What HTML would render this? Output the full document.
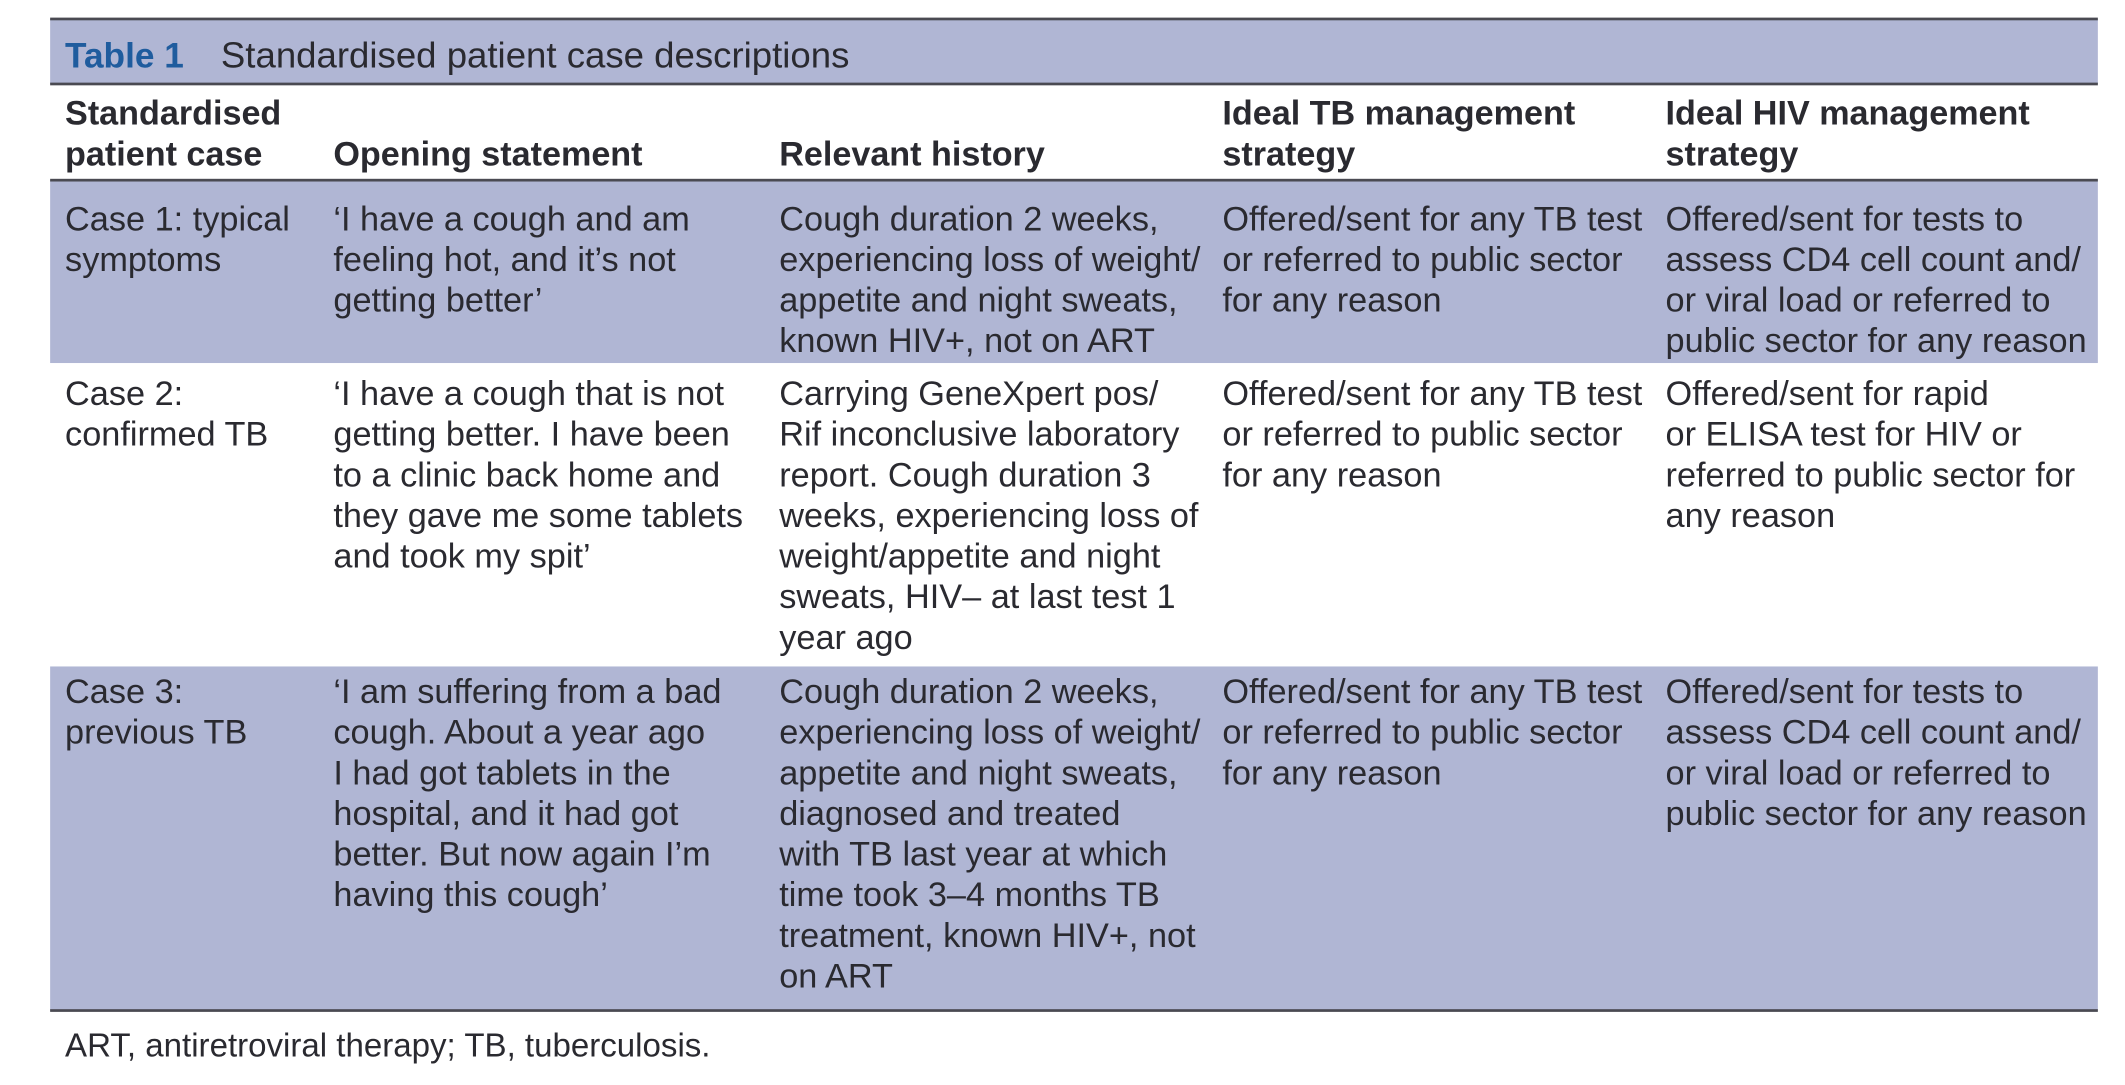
<!DOCTYPE html>
<html><head><meta charset="utf-8">
<style>
html,body{margin:0;padding:0;background:#fff;}
body{width:2125px;height:1085px;overflow:hidden;position:relative;}
#wrap{position:absolute;left:0;top:0;width:1568px;height:801px;transform:scale(1.3552,1.3546);transform-origin:0 0;font-family:"Liberation Sans",Arial,sans-serif;color:#2a2a30;}
.band{position:absolute;left:37px;width:1511px;background:#b0b6d4;}
.rule{position:absolute;left:37px;width:1511px;height:2px;background:#4a4a52;}
.c{position:absolute;font-size:25.3px;line-height:30px;white-space:nowrap;}
.h{font-weight:bold;font-size:25.2px;}
</style></head><body>
<div id="wrap">
<div class="band" style="top:14px;height:48px"></div>
<div class="band" style="top:133px;height:135px"></div>
<div class="band" style="top:492px;height:254px"></div>
<div class="rule" style="top:13px"></div>
<div class="rule" style="top:61px"></div>
<div class="rule" style="top:132px"></div>
<div class="rule" style="top:745px"></div>

<div class="c" style="left:48px;top:26px;font-size:26px;color:#1f5c9e;font-weight:bold">Table 1</div>
<div class="c" style="left:163px;top:26px;font-size:27px">Standardised patient case descriptions</div>

<div class="c h" style="left:48px;top:69px">Standardised<br>patient case</div>
<div class="c h" style="left:246px;top:99px">Opening statement</div>
<div class="c h" style="left:575px;top:99px">Relevant history</div>
<div class="c h" style="left:902px;top:69px">Ideal TB management<br>strategy</div>
<div class="c h" style="left:1229px;top:69px">Ideal HIV management<br>strategy</div>

<div class="c" style="left:48px;top:147px">Case 1: typical<br>symptoms</div>
<div class="c" style="left:246px;top:147px">‘I have a cough and am<br>feeling hot, and it’s not<br>getting better’</div>
<div class="c" style="left:575px;top:147px">Cough duration 2 weeks,<br>experiencing loss of weight/<br>appetite and night sweats,<br>known HIV+, not on ART</div>
<div class="c" style="left:902px;top:147px">Offered/sent for any TB test<br>or referred to public sector<br>for any reason</div>
<div class="c" style="left:1229px;top:147px">Offered/sent for tests to<br>assess CD4 cell count and/<br>or viral load or referred to<br>public sector for any reason</div>

<div class="c" style="left:48px;top:276px">Case 2:<br>confirmed TB</div>
<div class="c" style="left:246px;top:276px">‘I have a cough that is not<br>getting better. I have been<br>to a clinic back home and<br>they gave me some tablets<br>and took my spit’</div>
<div class="c" style="left:575px;top:276px">Carrying GeneXpert pos/<br>Rif inconclusive laboratory<br>report. Cough duration 3<br>weeks, experiencing loss of<br>weight/appetite and night<br>sweats, HIV– at last test 1<br>year ago</div>
<div class="c" style="left:902px;top:276px">Offered/sent for any TB test<br>or referred to public sector<br>for any reason</div>
<div class="c" style="left:1229px;top:276px">Offered/sent for rapid<br>or ELISA test for HIV or<br>referred to public sector for<br>any reason</div>

<div class="c" style="left:48px;top:496px">Case 3:<br>previous TB</div>
<div class="c" style="left:246px;top:496px">‘I am suffering from a bad<br>cough. About a year ago<br>I had got tablets in the<br>hospital, and it had got<br>better. But now again I’m<br>having this cough’</div>
<div class="c" style="left:575px;top:496px">Cough duration 2 weeks,<br>experiencing loss of weight/<br>appetite and night sweats,<br>diagnosed and treated<br>with TB last year at which<br>time took 3–4 months TB<br>treatment, known HIV+, not<br>on ART</div>
<div class="c" style="left:902px;top:496px">Offered/sent for any TB test<br>or referred to public sector<br>for any reason</div>
<div class="c" style="left:1229px;top:496px">Offered/sent for tests to<br>assess CD4 cell count and/<br>or viral load or referred to<br>public sector for any reason</div>

<div class="c" style="left:48px;top:758px;font-size:24.4px">ART, antiretroviral therapy; TB, tuberculosis.</div>
</div>
</body></html>
